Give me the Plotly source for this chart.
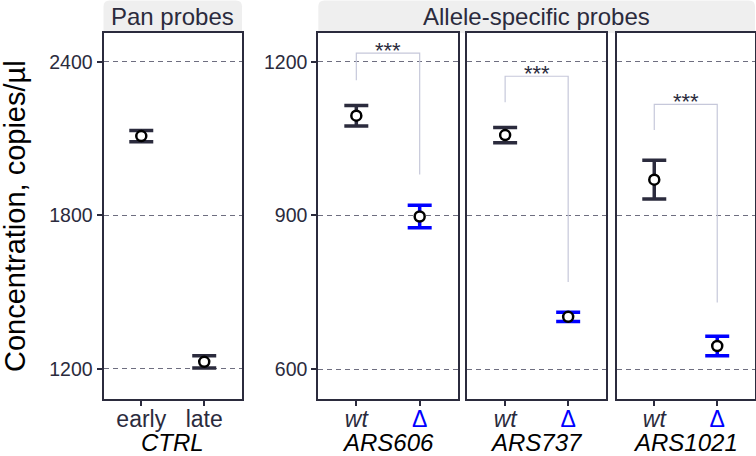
import plotly.graph_objects as go

W, H = 756, 456
def px(x): return x / W
def py(y): return 1 - y / H

# ---------------- data ----------------
ctrl_labels = ["early", "late"]
ctrl_mean = [2110, 1228]
ctrl_err = [22, 24]

groups = ["ARS606", "ARS737", "ARS1021"]
allele_labels = ["wt", "Δ"]
wt_mean = [1095, 1057, 970]
wt_err = [20, 15, 38]
del_mean = [898, 702, 645]
del_err = [22, 9, 19]

bracket_top = [1217, 1172, 1117]
bracket_wt_end = [1164, 1121, 1067]
bracket_del_end = [980, 770, 730]
sig_labels = ["***", "***", "***"]

left_ticks = [1200, 1800, 2400]
right_ticks = [600, 900, 1200]
strip_labels = ["Pan probes", "Allele-specific probes"]
y_title = "Concentration, copies/µl"

# ---------------- style ----------------
DARK = "#2b2b3d"
BLUE = "#0000ff"
GRID = "#6e6e80"
BRACKET = "#c6c8da"
FONT = "Liberation Sans, Arial, Helvetica, sans-serif"

panels_px = [(103.5, 242), (318.3, 457.7), (467.3, 606), (616.5, 755)]
ytop, ybot = 33, 399

fig = go.Figure()

def marker():
    return dict(symbol="circle", size=10, color="white", line=dict(color="black", width=2.5))

def err(arr, color):
    return dict(type="data", array=arr, color=color, thickness=3.5, width=12)

# Panel 1: CTRL
fig.add_trace(go.Scatter(x=ctrl_labels, y=ctrl_mean, mode="markers", marker=marker(),
                         error_y=err(ctrl_err, DARK), xaxis="x", yaxis="y", showlegend=False))

# Allele panels
for i, g in enumerate(groups):
    ax = str(i + 2)
    fig.add_trace(go.Scatter(x=[allele_labels[0], allele_labels[0], allele_labels[1], allele_labels[1]],
                             y=[bracket_wt_end[i], bracket_top[i], bracket_top[i], bracket_del_end[i]],
                             mode="lines", line=dict(color=BRACKET, width=1.2),
                             xaxis="x" + ax, yaxis="y" + ax, showlegend=False, hoverinfo="skip"))
    fig.add_trace(go.Scatter(x=[allele_labels[0]], y=[wt_mean[i]], mode="markers", marker=marker(),
                             error_y=err([wt_err[i]], DARK), xaxis="x" + ax, yaxis="y" + ax, showlegend=False))
    fig.add_trace(go.Scatter(x=[allele_labels[1]], y=[del_mean[i]], mode="markers", marker=marker(),
                             error_y=err([del_err[i]], BLUE), xaxis="x" + ax, yaxis="y" + ax, showlegend=False))

layout = dict(
    width=W, height=H, margin=dict(l=0, r=0, t=0, b=0), autosize=False,
    paper_bgcolor="white", plot_bgcolor="white",
    font=dict(family=FONT, color=DARK),
    showlegend=False,
)

xtitles = ["CTRL"] + groups
xticktexts = [ctrl_labels,
              ["<i>wt</i>", '<span style="color:#0000ff">Δ</span>']]
for k in range(4):
    name = "xaxis" if k == 0 else "xaxis%d" % (k + 1)
    yname = "y" if k == 0 else "y%d" % (k + 1)
    cats = ctrl_labels if k == 0 else allele_labels
    tt = xticktexts[0] if k == 0 else xticktexts[1]
    layout[name] = dict(
        domain=[px(panels_px[k][0]), px(panels_px[k][1])], anchor=yname,
        type="category", categoryorder="array", categoryarray=cats,
        range=[-0.6, 1.6], tickmode="array", tickvals=cats, ticktext=tt,
        ticks="outside", ticklen=5, tickwidth=1.5, tickcolor=DARK, ticklabelstandoff=-7,
        showline=True, mirror=True, linecolor=DARK, linewidth=2,
        showgrid=False, zeroline=False, fixedrange=True, automargin=False,
        tickfont=dict(size=23, color=DARK, family=FONT),
    )

layout["yaxis"] = dict(
    domain=[py(ybot), py(ytop)], anchor="x", range=[1082.7, 2513],
    tickmode="array", tickvals=left_ticks, ticks="outside", ticklen=5, tickwidth=1.5, tickcolor=DARK,
    tickfont=dict(size=19.5, color=DARK, family=FONT), automargin=False,
    showgrid=True, gridcolor=GRID, gridwidth=1, griddash="5px,4px",
    showline=True, mirror=True, linecolor=DARK, linewidth=2, zeroline=False, fixedrange=True,
)
for k in range(2, 5):
    d = dict(
        domain=[py(ybot), py(ytop)], anchor="x%d" % k, range=[541.4, 1256.5],
        tickmode="array", tickvals=right_ticks, automargin=False,
        showgrid=True, gridcolor=GRID, gridwidth=1, griddash="5px,4px",
        showline=True, mirror=True, linecolor=DARK, linewidth=2, zeroline=False, fixedrange=True,
    )
    if k == 2:
        d.update(ticks="outside", ticklen=5, tickwidth=1.5, tickcolor=DARK,
                 tickfont=dict(size=19.5, color=DARK, family=FONT))
    else:
        d.update(ticks="", showticklabels=False)
    layout["yaxis%d" % k] = d

fig.update_layout(**layout)

# strips
def strip_path(x0, x1, y0, y1, r=6):
    return ("M %f,%f L %f,%f Q %f,%f %f,%f L %f,%f Q %f,%f %f,%f L %f,%f Z" % (
        px(x0), py(y1), px(x0), py(y0 + r), px(x0), py(y0), px(x0 + r), py(y0),
        px(x1 - r), py(y0), px(x1), py(y0), px(x1), py(y0 + r), px(x1), py(y1)))

strips = [(panels_px[0][0], panels_px[0][1]), (panels_px[1][0], panels_px[3][1])]
for (x0, x1), lab in zip(strips, strip_labels):
    fig.add_shape(type="path", path=strip_path(x0, x1, 0.5, ytop), xref="paper", yref="paper",
                  fillcolor="#efefef", line=dict(width=0), layer="below")
    fig.add_annotation(x=px((x0 + x1) / 2), y=py(ytop / 2), xref="paper", yref="paper",
                       text=lab, showarrow=False, font=dict(size=24, color=DARK, family=FONT),
                       xanchor="center", yanchor="middle")

# x-axis group titles (facet labels below panels)
for k, t in enumerate(xtitles):
    xr = "x" if k == 0 else "x%d" % (k + 1)
    fig.add_annotation(x=0.5, xref=xr, y=py(442), yref="paper",
                       text="<i>%s</i>" % t, showarrow=False, borderpad=0,
                       font=dict(size=24, color="black", family=FONT),
                       xanchor="center", yanchor="middle")

# significance labels
for i in range(3):
    ax = str(i + 2)
    fig.add_annotation(x=0.5, y=bracket_top[i], xref="x" + ax, yref="y" + ax,
                       text=sig_labels[i], showarrow=False, yanchor="bottom", yshift=-12,
                       font=dict(size=22, color=DARK, family=FONT))

# y title
fig.add_annotation(x=px(15), y=py((ytop + ybot) / 2), xref="paper", yref="paper",
                   text=y_title, textangle=-90, showarrow=False,
                   font=dict(size=29, color="black", family=FONT),
                   xanchor="center", yanchor="middle")

fig.write_html("out.html",
               config={"displayModeBar": False, "responsive": False},
               post_script="document.body.style.margin='0';")
